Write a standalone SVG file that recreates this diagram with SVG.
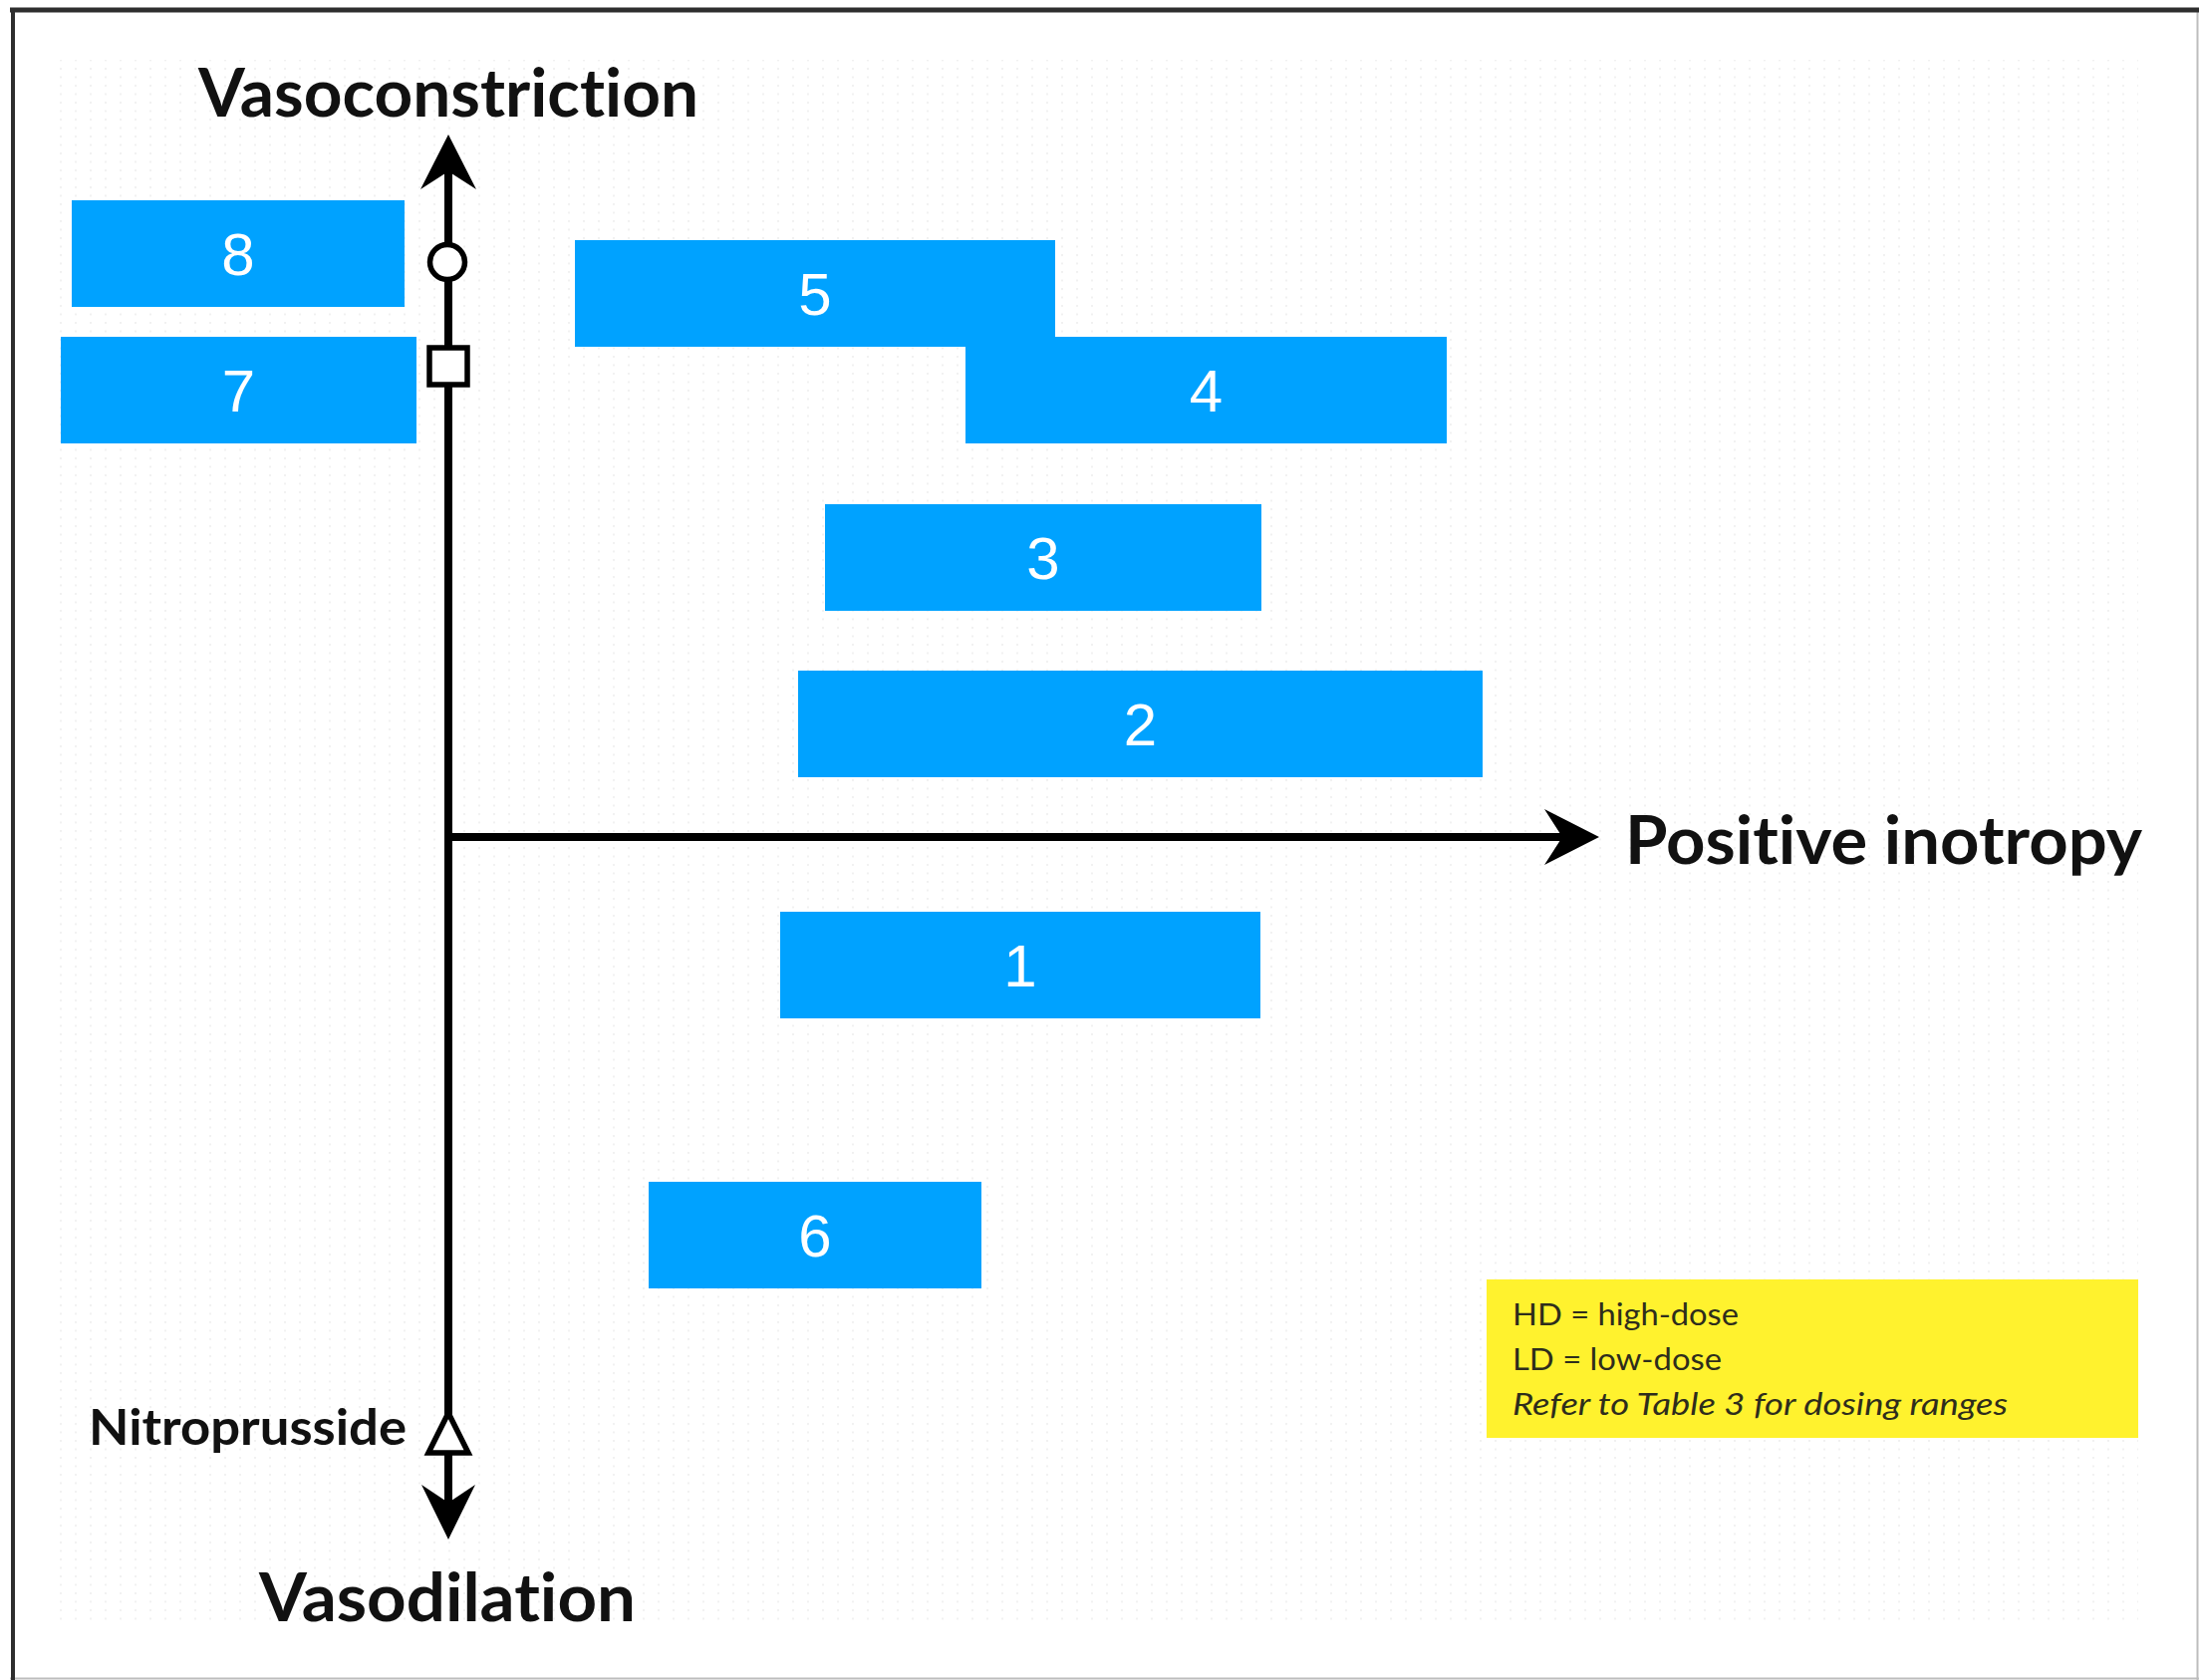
<svg xmlns="http://www.w3.org/2000/svg" width="2207" height="1686" viewBox="0 0 2207 1686">
  <style>
    .box { fill: #00A2FF; }
    .num { font-family: "Liberation Sans", Arial, sans-serif; font-size: 60px; fill: #ffffff; text-anchor: middle; }
    .axis-label { font-family: Lato, "Open Sans", "Liberation Sans", sans-serif; font-weight: bold; fill: #111111; font-variant-ligatures: none; }
    .legend { font-family: Lato, "Open Sans", "Liberation Sans", sans-serif; font-size: 30px; fill: #2e2d1c; font-variant-ligatures: none; }
    .axis { stroke: #000000; stroke-width: 8; fill: none; }
    .head { fill: #000000; }
    .marker { fill: #ffffff; stroke: #000000; stroke-width: 5.5; }
  </style>
  <defs>
    <pattern id="dots" x="0" y="0" width="15" height="8.5" patternUnits="userSpaceOnUse">
      <rect x="0" y="0" width="2" height="2" fill="#f1f1f1"/>
    </pattern>
  </defs>

  <!-- background -->
  <rect x="0" y="0" width="2207" height="1686" fill="#ffffff"/>
  <rect x="50" y="60" width="2096" height="1568" fill="url(#dots)"/>

  <!-- frame -->
  <g id="frame">
    <line x1="2205.5" y1="10" x2="2205.5" y2="1686" stroke="#bdbdbd" stroke-width="2"/>
    <line x1="10" y1="1684.5" x2="2207" y2="1684.5" stroke="#bdbdbd" stroke-width="2"/>
    <line x1="10" y1="10" x2="2207" y2="10" stroke="#2e2e2e" stroke-width="5"/>
    <line x1="13" y1="8" x2="13" y2="1686" stroke="#2e2e2e" stroke-width="4"/>
  </g>

  <!-- connectors: axes -->
  <g id="connectors">
    <line class="axis" x1="450" y1="170" x2="450" y2="1510"/>
    <line class="axis" x1="450" y1="840" x2="1570" y2="840"/>
    <path class="head" d="M450,135 L478,190 L450,172 L422,190 Z"/>
    <path class="head" d="M450,1545 L477,1490 L450,1508 L423,1490 Z"/>
    <path class="head" d="M1605,840 L1550,868 L1568,840 L1550,812 Z"/>
  </g>

  <!-- axis markers -->
  <g id="marker-circle">
    <circle class="marker" cx="449" cy="263" r="17.5"/>
  </g>
  <g id="marker-square">
    <rect class="marker" x="431" y="349" width="38" height="37"/>
  </g>
  <g id="marker-triangle">
    <path class="marker" d="M450,1418 L470,1458 L430,1458 Z"/>
  </g>

  <!-- axis labels -->
  <g id="label-vasoconstriction">
    <text class="axis-label" x="199" y="117" font-size="66" textLength="502" lengthAdjust="spacingAndGlyphs">Vasoconstriction</text>
  </g>
  <g id="label-vasodilation">
    <text class="axis-label" x="260" y="1627" font-size="67" textLength="378" lengthAdjust="spacingAndGlyphs">Vasodilation</text>
  </g>
  <g id="label-positive-inotropy">
    <text class="axis-label" x="1631" y="867" font-size="66" textLength="519" lengthAdjust="spacingAndGlyphs">Positive inotropy</text>
  </g>
  <g id="label-nitroprusside">
    <text class="axis-label" x="89" y="1450" font-size="49" textLength="319" lengthAdjust="spacingAndGlyphs">Nitroprusside</text>
  </g>

  <!-- boxes -->
  <g id="node-8">
    <rect class="box" x="72" y="201" width="334" height="107"/>
    <text class="num" x="239" y="276">8</text>
  </g>
  <g id="node-7">
    <rect class="box" x="61" y="338" width="357" height="107"/>
    <text class="num" x="239.5" y="413">7</text>
  </g>
  <g id="node-5">
    <rect class="box" x="577" y="241" width="482" height="107"/>
    <text class="num" x="818" y="316">5</text>
  </g>
  <g id="node-4">
    <rect class="box" x="969" y="338" width="483" height="107"/>
    <text class="num" x="1210.5" y="413">4</text>
  </g>
  <g id="node-3">
    <rect class="box" x="828" y="506" width="438" height="107"/>
    <text class="num" x="1047" y="581">3</text>
  </g>
  <g id="node-2">
    <rect class="box" x="801" y="673" width="687" height="107"/>
    <text class="num" x="1144.5" y="748">2</text>
  </g>
  <g id="node-1">
    <rect class="box" x="783" y="915" width="482" height="107"/>
    <text class="num" x="1024" y="990">1</text>
  </g>
  <g id="node-6">
    <rect class="box" x="651" y="1186" width="334" height="107"/>
    <text class="num" x="818" y="1261">6</text>
  </g>

  <!-- legend -->
  <g id="legend">
    <rect x="1492" y="1284" width="654" height="159" fill="#fff22e"/>
    <text class="legend" x="1518" y="1330" textLength="227" lengthAdjust="spacingAndGlyphs">HD = high-dose</text>
    <text class="legend" x="1518" y="1375" textLength="210" lengthAdjust="spacingAndGlyphs">LD = low-dose</text>
    <text class="legend" x="1518" y="1420" font-style="italic" textLength="497" lengthAdjust="spacingAndGlyphs">Refer to Table 3 for dosing ranges</text>
  </g>
</svg>
